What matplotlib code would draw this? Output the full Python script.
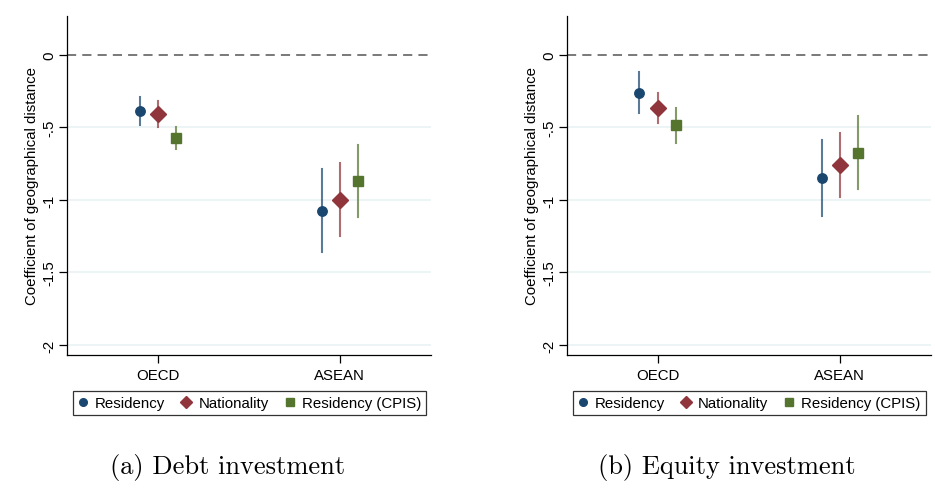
import matplotlib
matplotlib.use("Agg")
import matplotlib.pyplot as plt
from matplotlib.lines import Line2D

plt.rcParams['font.family'] = ['Liberation Sans', 'DejaVu Sans']

groups = ["OECD", "ASEAN"]
series = ["Residency", "Nationality", "Residency (CPIS)"]
panel_titles = ["(a) Debt investment", "(b) Equity investment"]

# Debt investment: point estimates and CI bounds (per series: [OECD, ASEAN])
debt_est = {"Residency": [-0.388, -1.074], "Nationality": [-0.409, -0.998], "Residency (CPIS)": [-0.572, -0.869]}
debt_lo = {"Residency": [-0.487, -1.361], "Nationality": [-0.497, -1.251], "Residency (CPIS)": [-0.648, -1.115]}
debt_hi = {"Residency": [-0.292, -0.788], "Nationality": [-0.319, -0.745], "Residency (CPIS)": [-0.497, -0.625]}

# Equity investment
eq_est = {"Residency": [-0.262, -0.846], "Nationality": [-0.368, -0.759], "Residency (CPIS)": [-0.485, -0.674]}
eq_lo = {"Residency": [-0.402, -1.108], "Nationality": [-0.471, -0.977], "Residency (CPIS)": [-0.605, -0.922]}
eq_hi = {"Residency": [-0.119, -0.584], "Nationality": [-0.262, -0.538], "Residency (CPIS)": [-0.366, -0.425]}

yticks = [0, -0.5, -1, -1.5, -2]
ytick_labels = ["0", "-.5", "-1", "-1.5", "-2"]

colors = {"Residency": "#1a476f", "Nationality": "#90353b", "Residency (CPIS)": "#55752f"}
markers = {"Residency": "o", "Nationality": "D", "Residency (CPIS)": "s"}
msizes = {"Residency": 6.8, "Nationality": 7.8, "Residency (CPIS)": 6.6}
offsets = {"Residency": -0.1, "Nationality": 0.0, "Residency (CPIS)": 0.1}

fig = plt.figure(figsize=(9.35, 4.89), dpi=100)
fig.patch.set_facecolor("white")

panels = [(debt_est, debt_lo, debt_hi), (eq_est, eq_lo, eq_hi)]
lefts = [0.0713, 0.606]
for pi, (est, lo, hi) in enumerate(panels):
    ax = fig.add_axes([lefts[pi], 0.272, 0.3896, 0.694])
    for yt in yticks[1:]:
        ax.axhline(yt, color="#eaf2f3", lw=1.2, zorder=0)
    ax.axhline(0, color="#555555", lw=1.1, ls=(0, (6, 4)), zorder=1)
    for s in series:
        xs = [i + 1 + offsets[s] for i in range(len(groups))]
        for x, l, h in zip(xs, lo[s], hi[s]):
            ax.plot([x, x], [l, h], color=colors[s], lw=1.5, alpha=0.72, zorder=2)
        ax.plot(xs, est[s], ls="none", marker=markers[s], ms=msizes[s],
                color=colors[s], mec=colors[s], zorder=3)
    ax.set_xlim(0.5, 2.5)
    ax.set_ylim(-2.069, 0.27)
    ax.set_xticks([1, 2])
    ax.set_xticklabels(groups, fontsize=10.8)
    ax.set_yticks(yticks)
    ax.set_yticklabels(ytick_labels, fontsize=10.8, rotation=90, va="center")
    ax.set_ylabel("Coefficient of geographical distance", fontsize=10.8, labelpad=2)
    for sp in ["top", "right"]:
        ax.spines[sp].set_visible(False)
    for sp in ["left", "bottom"]:
        ax.spines[sp].set_color("#000000")
        ax.spines[sp].set_linewidth(0.9)
    ax.tick_params(axis="both", direction="out", length=5.5, width=0.9, color="#000000")
    ax.tick_params(axis="y", pad=2)
    ax.tick_params(axis="x", pad=4)

    handles = [Line2D([], [], ls="none", marker=markers[s], color=colors[s],
                      ms=5.5 if s != "Nationality" else 6.2) for s in series]
    cx = lefts[pi] + 0.3896 / 2
    leg = fig.legend(handles, series, loc="center", bbox_to_anchor=(cx + 0.001, 1 - 404 / 489),
                     ncol=3, fontsize=10.8, frameon=True, fancybox=False,
                     handlelength=0.6, handletextpad=0.5, columnspacing=1.1,
                     borderpad=0.35, borderaxespad=0)
    leg.get_frame().set_edgecolor("#000000")
    leg.get_frame().set_linewidth(0.9)

    fig.text(cx - 0.023, 1 - 468 / 489, panel_titles[pi], ha="center", va="center",
             fontsize=19, family=["cmr10"])

fig.savefig("out.png", dpi=100)
